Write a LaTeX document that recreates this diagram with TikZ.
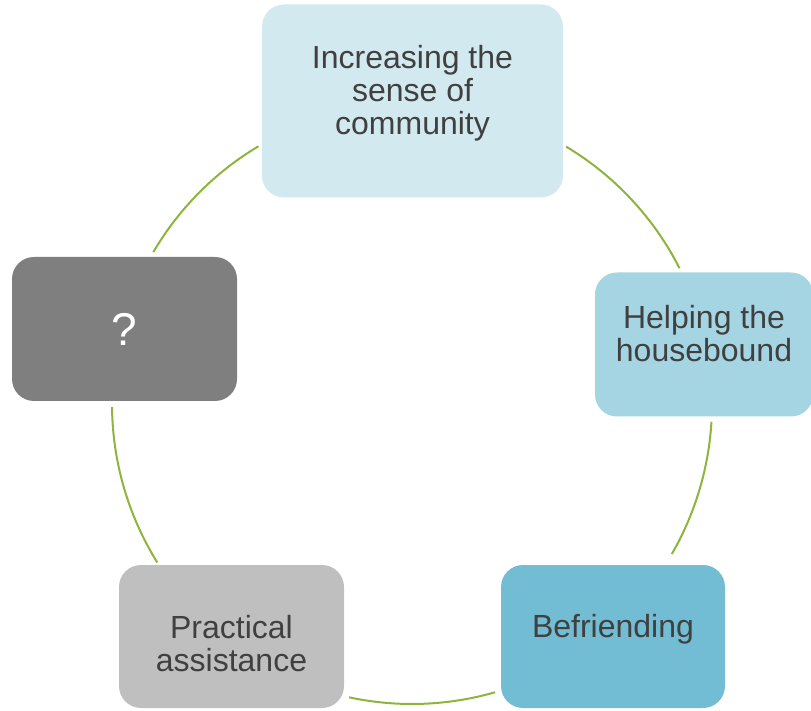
\documentclass[tikz,border=0pt]{standalone}
\usepackage{fontspec}
\setmainfont{Liberation Sans}
\usetikzlibrary{positioning}
\definecolor{lblue}{RGB}{210,233,239}
\definecolor{mblue}{RGB}{165,213,226}
\definecolor{dblue}{RGB}{114,189,211}
\definecolor{lgray}{RGB}{191,191,191}
\definecolor{dgray}{RGB}{127,127,127}
\definecolor{ringgreen}{RGB}{141,180,60}
\definecolor{txt}{RGB}{64,64,64}
\begin{document}
\begin{tikzpicture}[x=1pt,y=1pt,
  box/.style={rounded corners=22pt,inner sep=0pt,align=center,text=txt,
    font=\fontsize{32}{33}\selectfont},
  cycarc/.style={ringgreen,line width=2pt}]
\useasboundingbox (0,0) rectangle (811,710);
\coordinate (c) at (412,306);
\node[box,fill=lblue,minimum width=301,minimum height=193] (1) at (412.5,609)
  {Increasing the\\sense of\\community\\[-11pt]};
\node[box,fill=mblue,minimum width=218,minimum height=144] (2) at (704,365.5)
  {Helping the\\housebound\\[-11pt]};
\node[box,fill=dblue,minimum width=224,minimum height=143] (3) at (613,73.5)
  {Befriending\\[-12pt]};
\node[box,fill=lgray,minimum width=225,minimum height=143] (4) at (231.5,73.5)
  {\mbox{}\\[4pt]Practical\\assistance};
\node[box,fill=dgray,text=white,minimum width=225,minimum height=144,
  font=\fontsize{46}{48}\selectfont] (5) at (124.5,381) {?};
% arcs of the cycle
\draw[cycarc] ([shift={(59.1:300)}]c) arc[start angle=59.1,end angle=26.9,radius=300];
\draw[cycarc] ([shift={(-3.4:300)}]c) arc[start angle=-3.4,end angle=-30,radius=300];
\draw[cycarc] ([shift={(-73.9:300)}]c) arc[start angle=-73.9,end angle=-102.1,radius=300];
\draw[cycarc] ([shift={(211.9:300)}]c) arc[start angle=211.9,end angle=180.6,radius=300];
\draw[cycarc] ([shift={(149.6:300)}]c) arc[start angle=149.6,end angle=120.8,radius=300];
\end{tikzpicture}
\end{document}
